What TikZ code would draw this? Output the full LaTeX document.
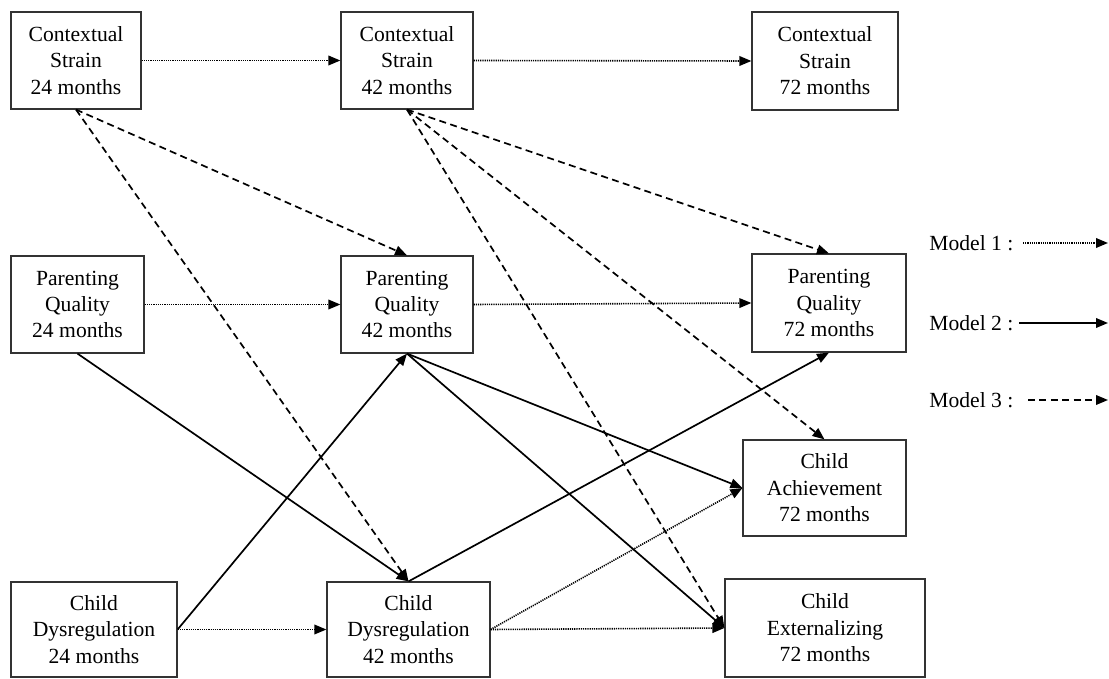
\documentclass[tikz,border=0pt]{standalone}
\usepackage{fontspec}
\setmainfont{Liberation Serif}
\usetikzlibrary{arrows.meta}
\tikzset{
  box/.style={draw=black!80,line width=0.6pt,align=center,inner sep=0pt,font=\fontsize{10.8}{13.2}\selectfont},
  legend/.style={anchor=west,inner sep=0pt,font=\fontsize{10.8}{13.2}\selectfont},
  m1/.style={-{Triangle[length=6pt,width=4.8pt]},line width=0.8pt,dash pattern=on 0.6pt off 0.5pt},
  m2/.style={-{Triangle[length=6pt,width=4.8pt]},line width=0.85pt},
  m3/.style={-{Triangle[length=6pt,width=4.8pt]},line width=0.85pt,dash pattern=on 3.5pt off 2.2pt}
}
\begin{document}
\begin{tikzpicture}[x=0.5pt,y=-0.5pt]
\useasboundingbox (0,0) rectangle (1109,679);
\node[box,minimum width=65pt,minimum height=48.5pt] (cs24) at (76,60.5) {Contextual\\Strain\\24 months};
\node[box,minimum width=66pt,minimum height=48.5pt] (cs42) at (407,60.5) {Contextual\\Strain\\42 months};
\node[box,minimum width=73pt,minimum height=49pt] (cs72) at (825,61) {Contextual\\Strain\\72 months};
\node[box,minimum width=66.5pt,minimum height=48.5pt] (pq24) at (77.5,304.5) {Parenting\\Quality\\24 months};
\node[box,minimum width=66pt,minimum height=48.5pt] (pq42) at (407,304.5) {Parenting\\Quality\\42 months};
\node[box,minimum width=77pt,minimum height=49pt] (pq72) at (829,303) {Parenting\\Quality\\72 months};
\node[box,minimum width=81.5pt,minimum height=48pt] (ca72) at (824.5,488) {Child\\Achievement\\72 months};
\node[box,minimum width=83pt,minimum height=47.5pt] (cd24) at (94,629.5) {Child\\Dysregulation\\24 months};
\node[box,minimum width=81.5pt,minimum height=47.5pt] (cd42) at (408.5,629.5) {Child\\Dysregulation\\42 months};
\node[box,minimum width=100pt,minimum height=49pt] (ce72) at (825,628) {Child\\Externalizing\\72 months};
\draw[m1] (cs24.east) -- (cs42.west);
\draw[m1] (cs42.east) -- (cs72.west);
\draw[m1] (pq24.east) -- (pq42.west);
\draw[m1] (pq42.east) -- (pq72.west);
\draw[m1] (cd24.east) -- (cd42.west);
\draw[m1] (cd42.east) -- (ca72.west);
\draw[m1] (cd42.east) -- (ce72.west);
\draw[m2] (pq24.south) -- (cd42.north);
\draw[m2] (cd24.east) -- (pq42.south);
\draw[m2] (pq42.south) -- (ca72.west);
\draw[m2] (pq42.south) -- (ce72.west);
\draw[m2] (cd42.north) -- (pq72.south);
\draw[m3] (cs24.south) -- (pq42.north);
\draw[m3] (cs24.south) -- (cd42.north);
\draw[m3] (cs42.south) -- (pq72.north);
\draw[m3] (cs42.south) -- (ca72.north);
\draw[m3] (cs42.south) -- (ce72.west);
\node[legend] (lm1) at (929,243) {Model 1 :};
\node[legend] (lm2) at (929,323) {Model 2 :};
\node[legend] (lm3) at (929,400) {Model 3 :};
\coordinate (m1s) at (1023,243);
\coordinate (m1e) at (1108,243);
\coordinate (m2s) at (1019,323);
\coordinate (m2e) at (1108,323);
\coordinate (m3s) at (1028,400);
\coordinate (m3e) at (1108,400);
\draw[m1] (m1s) -- (m1e);
\draw[m2] (m2s) -- (m2e);
\draw[m3] (m3s) -- (m3e);
\end{tikzpicture}
\end{document}
